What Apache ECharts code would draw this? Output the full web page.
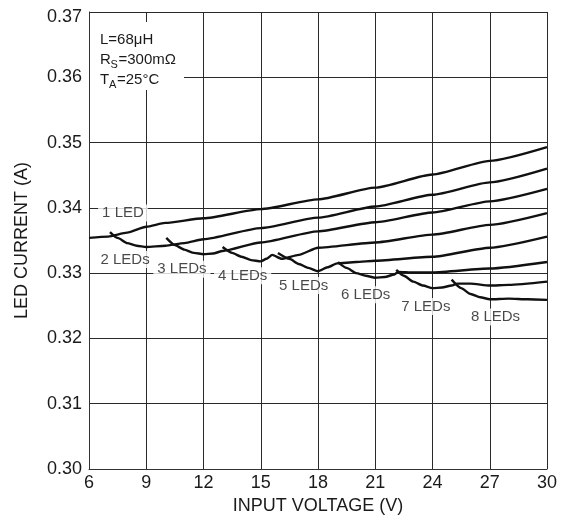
<!DOCTYPE html>
<html><head><meta charset="utf-8">
<script src="https://cdn.jsdelivr.net/npm/echarts@6/dist/echarts.min.js"></script>
<style>html,body{margin:0;padding:0;background:#fff}#c{width:566px;height:521px}</style>
</head><body><div id="c"></div>
<script>
// ---- data ----
const xTickLabels = ['6','9','12','15','18','21','24','27','30'];
const yTickLabels = ['0.30','0.31','0.32','0.33','0.34','0.35','0.36','0.37'];

const led1 = [[6,0.3354],[7,0.3356],[8,0.3362],[9,0.3371],[10,0.3377],[12,0.3384],[15,0.3398],[18,0.3413],[21,0.3431],[24,0.3451],[27,0.3472],[30,0.3493]];
const led2 = [[7.1,0.3363],[7.5,0.3354],[8,0.3346],[8.5,0.3342],[9,0.3340],[10,0.3342],[11,0.3346],[12,0.3352],[15,0.3369],[18,0.3385],[21,0.3402],[24,0.3420],[27,0.3439],[30,0.3460]];
const led3 = [[10.05,0.3354],[10.5,0.3343],[11,0.3336],[11.5,0.3331],[12,0.3329],[12.5,0.3330],[13,0.3334],[15,0.3347],[18,0.3364],[21,0.3378],[24,0.3393],[27,0.3410],[30,0.3429]];
const led4 = [[13.0,0.3340],[13.5,0.3331],[14,0.3325],[14.5,0.3320],[15,0.3318],[15.3,0.3322],[15.6,0.3328],[16.1,0.3322],[17,0.3328],[18,0.3339],[21,0.3347],[24,0.3359],[27,0.3374],[30,0.3392]];
const led5 = [[15.9,0.3331],[16.5,0.3322],[17,0.3314],[17.5,0.3308],[18,0.3303],[18.5,0.3309],[19,0.3315],[20,0.3317],[21,0.3319],[24,0.3325],[27,0.3339],[30,0.3356]];
const led6 = [[19.05,0.3317],[19.5,0.3308],[20,0.3300],[20.5,0.3296],[21,0.3293],[21.5,0.3294],[22,0.3298],[22.2,0.3302],[23,0.3301],[24,0.3301],[27,0.3307],[30,0.3317]];
const led7 = [[22.1,0.3305],[22.5,0.3296],[23,0.3287],[23.5,0.3281],[24,0.3277],[24.5,0.3278],[25,0.3281],[25.3,0.3284],[26,0.3284],[27,0.3281],[28,0.3282],[30,0.3287]];
const led8 = [[25.0,0.3290],[25.5,0.3277],[26,0.3268],[26.5,0.3263],[27,0.3260],[28,0.3261],[29,0.3260],[30,0.3259]];

const curveNames = ['1 LED','2 LEDs','3 LEDs','4 LEDs','5 LEDs','6 LEDs','7 LEDs','8 LEDs'];
const labelAnchors = [[7.78,0.3392],[7.89,0.3321],[10.87,0.3306],[14.05,0.3296],[17.25,0.3281],[20.5,0.3267],[23.65,0.3249],[27.3,0.3233]];

// ---- chart ----
const FONT = "'Liberation Sans', Arial, sans-serif";
const curves = [led1,led2,led3,led4,led5,led6,led7,led8];
const chart = echarts.init(document.getElementById('c'), null, {renderer:'canvas'});

const series = curves.map((d,i)=>({
  type:'line', name:curveNames[i], data:d, showSymbol:false, symbol:'none',
  smooth:0.2, smoothMonotone:'x', z:5,
  lineStyle:{color:'#111', width:2.4}
}));
series.push({
  type:'scatter', z:3, symbolSize:0, silent:true,
  data: labelAnchors.map((p,i)=>({value:p, name:curveNames[i]})),
  label:{show:true, position:'inside', formatter:p=>p.name,
    fontFamily:FONT, fontSize:15, color:'#1a1a1a',
    backgroundColor:'#fff', padding:[1,4,1,4]}
});

chart.setOption({
  animation:false,
  backgroundColor:'#fff',
  grid:{left:89, right:19, top:12, bottom:52, containLabel:false},
  xAxis:{
    type:'value', min:6, max:30, interval:3,
    name:'INPUT VOLTAGE (V)', nameLocation:'middle', nameGap:28,
    nameTextStyle:{fontFamily:FONT, fontSize:18, color:'#1a1a1a'},
    axisLine:{show:true, lineStyle:{color:'#333', width:1}},
    axisTick:{show:false},
    axisLabel:{fontFamily:FONT, fontSize:18, color:'#1a1a1a', margin:5,
      formatter:v=>xTickLabels[Math.round((v-6)/3)]},
    splitLine:{show:true, lineStyle:{color:'#2a2a2a', width:1}}
  },
  yAxis:{
    type:'value', min:0.30, max:0.37, interval:0.01,
    name:'LED CURRENT (A)', nameLocation:'middle', nameGap:58,
    nameTextStyle:{fontFamily:FONT, fontSize:18, color:'#1a1a1a'},
    axisLine:{show:true, lineStyle:{color:'#333', width:1}},
    axisTick:{show:false},
    axisLabel:{fontFamily:FONT, fontSize:18, color:'#1a1a1a', margin:7,
      formatter:v=>{const i=Math.round((v-0.30)/0.01); const t=yTickLabels[i]; return i===7?'{top|'+t+'}':t;},
      rich:{top:{fontFamily:FONT, fontSize:18, color:'#1a1a1a', padding:[10,0,0,0]}}},
    splitLine:{show:true, lineStyle:{color:'#2a2a2a', width:1}}
  },
  graphic:[
    {type:'rect', z:10, shape:{x:90, y:22, width:94, height:68}, style:{fill:'#fff'}},
    {type:'text', z:11, x:100, y:40, style:{text:'L=68μH', font:'15px '+FONT, fill:'#1a1a1a', verticalAlign:'middle'}},
    {type:'text', z:11, x:100, y:60, style:{text:'R', font:'15px '+FONT, fill:'#1a1a1a', verticalAlign:'middle'}},
    {type:'text', z:11, x:110.5, y:65, style:{text:'S', font:'11px '+FONT, fill:'#1a1a1a', verticalAlign:'middle'}},
    {type:'text', z:11, x:118.5, y:60, style:{text:'=300mΩ', font:'15px '+FONT, fill:'#1a1a1a', verticalAlign:'middle'}},
    {type:'text', z:11, x:100, y:80, style:{text:'T', font:'15px '+FONT, fill:'#1a1a1a', verticalAlign:'middle'}},
    {type:'text', z:11, x:109, y:85, style:{text:'A', font:'11px '+FONT, fill:'#1a1a1a', verticalAlign:'middle'}},
    {type:'text', z:11, x:117, y:80, style:{text:'=25°C', font:'15px '+FONT, fill:'#1a1a1a', verticalAlign:'middle'}}
  ],
  series
});
</script></body></html>
